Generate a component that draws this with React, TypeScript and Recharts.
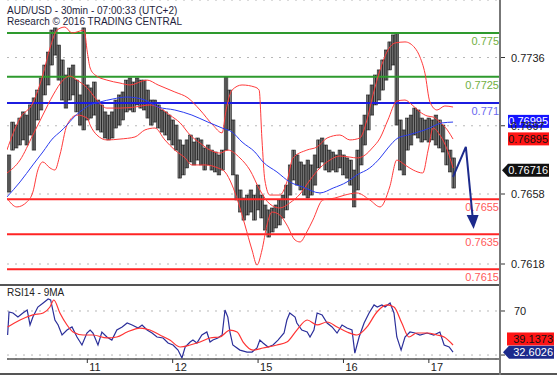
import React from 'react';
import { ComposedChart, Bar, Line, XAxis, YAxis, CartesianGrid, ReferenceLine, Scatter } from 'recharts';

// ---- price bars (hourly, t = hours since day 11 00:00, trading time) ----
const barHours = [-22,-21,-20,-19,-18,-17,-16,-15,-14,-13,-12,-11,-10,-9,-8,-7,-6,-5,-4,-3,-2,-1,
  0,1,2,3,4,5,6,7,8,9,10,11,12,13,14,15,16,17,18,19,20,21,22,23,
  24,25,26,27,28,29,30,31,32,33,34,35,36,37,38,39,40,41,42,43,44,45,46,47,
  48,49,50,51,52,53,54,55,56,57,58,59,60,61,62,63,64,65,66,67,68,69,70,71,
  72,73,74,75,76,77,78,79,80,81,82,83,84,85,86,87,88,89,90,91,92,93,94,95,
  96,97,98,99,100,101,102,103];
const barHighs = [0.76803,0.76991,0.76974,0.77014,0.77049,0.77031,0.77089,0.77129,0.77174,0.77243,0.77317,0.77391,0.77517,0.77529,0.77431,0.77346,0.77260,0.77300,0.77317,0.77231,0.77146,0.77529,
  0.77203,0.77186,0.77220,0.77117,0.77089,0.77049,0.77031,0.77049,0.77117,0.77146,0.77163,0.77231,0.77243,0.77220,0.77243,0.77231,0.77231,0.77174,0.77117,0.77117,0.77089,0.77060,0.77049,0.77031,
  0.77003,0.76974,0.76889,0.76860,0.76889,0.76917,0.76877,0.76900,0.76889,0.76843,0.76860,0.76831,0.76820,0.76803,0.76831,0.77249,0.77174,0.77003,0.76689,0.76603,0.76557,0.76574,0.76603,0.76574,
  0.76631,0.76574,0.76517,0.76489,0.76500,0.76517,0.76546,0.76574,0.76631,0.76746,0.76831,0.76803,0.76763,0.76746,0.76774,0.76746,0.76803,0.76889,0.76900,0.76860,0.76831,0.76820,0.76803,0.76831,
  0.76803,0.76786,0.76774,0.76717,0.76831,0.76974,0.77031,0.77146,0.77203,0.77260,0.77289,0.77346,0.77403,0.77449,0.77489,0.77500,0.77003,0.76946,0.77014,0.77031,0.77071,0.77060,0.77014,0.77003,
  0.77014,0.77003,0.77031,0.77003,0.76974,0.76889,0.76831,0.76786];
const barLows = [0.76591,0.76831,0.76843,0.76860,0.76889,0.76860,0.76917,0.76831,0.77003,0.77060,0.77146,0.77203,0.77317,0.77374,0.77231,0.77117,0.77071,0.77117,0.77146,0.77049,0.76974,0.76946,
  0.77003,0.77014,0.77031,0.76946,0.76934,0.76900,0.76889,0.76900,0.76957,0.76974,0.77003,0.77049,0.77060,0.77049,0.77089,0.77071,0.77060,0.77014,0.76974,0.76991,0.76957,0.76934,0.76917,0.76889,
  0.76860,0.76831,0.76671,0.76689,0.76729,0.76763,0.76746,0.76774,0.76746,0.76717,0.76746,0.76717,0.76706,0.76689,0.76717,0.76831,0.76946,0.76689,0.76546,0.76477,0.76431,0.76460,0.76477,0.76431,
  0.76489,0.76443,0.76374,0.76334,0.76363,0.76386,0.76403,0.76443,0.76489,0.76574,0.76660,0.76631,0.76603,0.76574,0.76557,0.76574,0.76631,0.76729,0.76763,0.76717,0.76706,0.76717,0.76706,0.76729,
  0.76689,0.76671,0.76631,0.76506,0.76603,0.76746,0.76860,0.76946,0.77031,0.77089,0.77117,0.77174,0.77231,0.77289,0.77317,0.76974,0.76717,0.76689,0.76831,0.76860,0.76917,0.76900,0.76877,0.76889,
  0.76877,0.76889,0.76860,0.76843,0.76820,0.76746,0.76706,0.76614];
const lastClose = 0.76716;

// ---- Bollinger bands (red) and moving average (blue) ----
const upperBand: [number, number][] = [[-22.6,0.76831],[-18.9,0.77014],[-15.3,0.77100],[-12.5,0.77260],[-10.5,0.77414],[-8.5,0.77517],[-6.3,0.77534],[-4.3,0.77500],[-2.1,0.77511],[-0.9,0.77517],
  [0,0.77391],[0.8,0.77300],[2.2,0.77260],[5.5,0.77231],[9.2,0.77214],[12,0.77203],[16.8,0.77231],[19.9,0.77203],[24.6,0.77163],[28.3,0.77129],[31.7,0.77060],[35.3,0.76974],[37.9,0.76929],
  [39,0.77060],[40.7,0.77174],[43.5,0.77203],[47.1,0.77191],[48.3,0.77174],[49.1,0.76889],[49.9,0.76660],[51.3,0.76574],[54.1,0.76574],[56.1,0.76649],[57.8,0.76786],[61.7,0.76831],
  [64.6,0.76849],[67.4,0.76900],[71,0.76917],[73.8,0.76889],[76.6,0.76900],[78.6,0.77003],[80.3,0.77146],[82.3,0.77289],[84.2,0.77391],[86.5,0.77443],[89.3,0.77449],[92.1,0.77414],
  [93.5,0.77363],[94.9,0.77271],[96.3,0.77106],[98.3,0.77060],[100.5,0.77083],[102.8,0.77077]];
const middleBand: [number, number][] = [[-22.6,0.76700],[-18.9,0.76774],[-15.3,0.76917],[-12.5,0.77031],[-9.6,0.77146],[-6.8,0.77231],[-4.9,0.77254],[-2.9,0.77231],[0,0.77186],[2.7,0.77117],
  [5.5,0.77071],[9.2,0.77071],[13.4,0.77077],[17.6,0.77089],[20.4,0.77071],[23.2,0.77031],[26.1,0.76986],[28.9,0.76917],[31.7,0.76871],[34.5,0.76831],[37.3,0.76814],[39.5,0.76831],
  [42.9,0.76786],[45.7,0.76717],[48.5,0.76603],[51.3,0.76523],[54.1,0.76500],[56.9,0.76529],[59.8,0.76580],[62.6,0.76660],[65.4,0.76729],[68.2,0.76774],[71,0.76797],[73.8,0.76791],
  [75.8,0.76786],[78.1,0.76803],[80.1,0.76843],[82.3,0.76900],[84.5,0.77003],[87,0.77111],[89.3,0.77117],[91.3,0.77089],[93.5,0.77049],[95.5,0.77026],[97.2,0.77020],[99.1,0.76991],
  [101.2,0.76946],[102.8,0.76894]];
const lowerBand: [number, number][] = [[-22.6,0.76557],[-19.8,0.76506],[-17,0.76534],[-15.3,0.76591],[-13.9,0.76717],[-12.5,0.76763],[-10.5,0.76729],[-9.1,0.76717],[-7.7,0.76803],[-5.7,0.76974],
  [-2.9,0.77031],[0,0.77014],[0.8,0.76974],[2.7,0.76917],[5.5,0.76889],[9.2,0.76894],[13.4,0.76906],[16.2,0.76946],[19,0.76957],[21.8,0.76889],[24.6,0.76831],[27.5,0.76786],[29.4,0.76746],
  [33.1,0.76746],[36.7,0.76729],[38.7,0.76706],[40.7,0.76631],[42.4,0.76534],[44.3,0.76403],[46.3,0.76260],[47.7,0.76174],[49.1,0.76260],[50.5,0.76403],[51.9,0.76477],[54.1,0.76460],
  [56.1,0.76403],[58.4,0.76317],[59.8,0.76306],[61.7,0.76363],[63.4,0.76431],[66.2,0.76546],[69.6,0.76557],[72.4,0.76574],[75.8,0.76586],[79.4,0.76546],[82.3,0.76506],[85,0.76620],
  [87,0.76774],[89.3,0.76746],[91.6,0.76717],[94.3,0.76700],[95.8,0.76831],[97.2,0.76957],[99.1,0.76917],[101.2,0.76831],[102.8,0.76729]];
const movingAvg: [number, number][] = [[-22.6,0.76563],[-18.9,0.76649],[-15.3,0.76746],[-12.5,0.76820],[-9.6,0.76900],[-7.7,0.76934],[-5.7,0.76974],[-4,0.77014],[-2.1,0.77049],[0.8,0.77089],
  [3.6,0.77106],[7.2,0.77123],[11.2,0.77134],[16.2,0.77117],[19.9,0.77077],[24.6,0.77060],[29.4,0.77031],[33.9,0.76991],[37.9,0.76957],[40.7,0.76934],[43.5,0.76877],[47.1,0.76820],
  [49.4,0.76763],[53.3,0.76706],[56.9,0.76649],[60.6,0.76620],[65.4,0.76586],[69.1,0.76614],[73,0.76649],[75.8,0.76689],[79.4,0.76729],[82.3,0.76786],[84.5,0.76843],[87.3,0.76900],
  [90.1,0.76917],[94.9,0.76946],[99.7,0.76986],[102.8,0.76991]];
const maLast = 0.76995;
const midLast = 0.76895;

// ---- forecast arrow ----
const arrowPath: [number, number][] = [[102.8,0.76678],[106.4,0.76849],[108.3,0.76449]];

// ---- key levels ----
const levelValues = [0.775, 0.7725, 0.771, 0.7655, 0.7635, 0.7615];
const levelLabels = ['0.775', '0.7725', '0.771', '0.7655', '0.7635', '0.7615'];
const levelKinds = ['res', 'res', 'pivot', 'sup', 'sup', 'sup'];

// ---- axes ----
const priceTicks = [0.7618, 0.7658, 0.7697, 0.7736];
const dayTicks = [0, 24, 48, 72, 96];
const dayLabels = ['11', '12', '15', '16', '17'];
const rsiTicks = [30, 50, 70];
const rsiTickLabels = ['', '50', '70'];

// ---- RSI ----
const rsiLine: [number, number][] = [[-22.4,48.2],[-22,69.1],[-20.9,68.2],[-19.5,64.5],[-18.1,68.2],[-16.9,70.9],[-16.1,57.3],[-15.3,64.5],[-13.9,73.6],[-12.4,77.3],[-11,80.9],[-10.3,80],
  [-9.1,61.8],[-8.2,57.3],[-7.1,48.2],[-5.7,52.7],[-4.3,55.5],[-2.9,46.4],[-1.5,39.1],[-0.1,50],[0.8,52.7],[1.6,50],[3,39.1],[4.1,50.9],[5.5,46.4],[6.9,43.6],[8.3,52.7],[9.8,55.5],
  [11.2,59.1],[12.6,57.3],[14.3,54.5],[15.4,57.3],[16.8,52.7],[18.2,50],[19.6,46.4],[21.3,45.5],[22.7,40.9],[24.1,39.1],[25.5,34.5],[26.6,27.3],[27.5,37.3],[28.9,41.8],[29.7,43.6],
  [30.8,40.9],[32.2,48.2],[33.6,50.9],[34.5,41.8],[35.3,43.6],[36.7,45.5],[37.9,48.2],[38.7,70.9],[39.5,64.5],[40.1,50.9],[40.9,39.1],[42.9,34.5],[44.9,32.7],[46.3,32.7],[47.7,36.4],
  [48.5,43.6],[49.4,40.9],[50.8,37.3],[52.2,39.1],[53.6,43.6],[55.3,50],[56.1,61.8],[56.9,68.2],[58.4,64.5],[58.9,59.1],[60.3,52.7],[61.8,50.9],[62.6,46.4],[63.7,52.7],[64.6,68.2],
  [66,66.4],[67.4,59.1],[68.8,55.5],[70.2,50],[71.6,57.3],[73,54.5],[74.4,52.7],[75.2,31.8],[76.4,46.4],[77.8,59.1],[79.2,68.2],[80.6,75.5],[81.5,73.6],[82.8,75.5],[83.7,73.6],
  [85.1,77.3],[86.2,68.2],[87,46.4],[88.2,34.5],[89.3,46.4],[90.7,50.9],[92.1,50],[93.5,48.2],[95.5,50],[97.4,48.2],[99.1,50.9],[100.3,39.1],[101.7,37.3],[102.8,32.6]];
const rsiMa: [number, number][] = [[-22.4,55.5],[-18.9,61.8],[-15.3,66.4],[-12.4,68.2],[-10.5,73.6],[-9.4,80],[-7.7,68.2],[-5.7,57.3],[-4,50.9],[-1.2,48.2],[1.6,48.2],[5.5,45.5],[8.3,46.4],
  [11.2,50.9],[14.8,54.5],[17.6,52.7],[20.4,48.2],[23.2,43.6],[26.1,37.3],[28.9,39.1],[31.7,41.8],[34.5,45.5],[37.3,46.4],[40.1,52.7],[42.1,50.9],[43.8,41.8],[46.6,34.5],[49.4,36.4],
  [53.3,39.1],[56.1,41.8],[58.9,52.7],[61.8,61.8],[64.6,57.3],[67.4,60],[70.2,55.5],[73,50.9],[75.8,48.2],[78.6,55.5],[81.4,69.1],[84.2,75.5],[86.2,73.6],[88.4,59.1],[90.4,46.4],
  [92.6,50],[95.5,50],[98.3,48.2],[100.3,46.4],[102.8,39.1]];
const rsiLast = 32.6026;
const rsiMaLast = 39.1373;

const FONT = '"Liberation Sans", Arial, sans-serif';
const X_DOMAIN: [number, number] = [-22.57, 116];

const toPts = (arr: [number, number][]) => arr.map(([t, v]) => ({ t, v }));
const barData = barHours.map((t, i) => ({ t, range: [barLows[i], barHighs[i]] }));

const levelStroke: Record<string, string> = { res: '#2e9a2e', pivot: '#1c1ce0', sup: '#ff2424' };
const levelText: Record<string, string> = { res: '#72b043', pivot: '#6a6af0', sup: '#ff5a5a' };

const PriceTick = (props: any) => {
  const { x, y, payload } = props;
  return (
    <text x={x} y={y} dy={4} fill="#222" fontSize={11} fontFamily={FONT} textAnchor="start">
      {Number(payload.value).toFixed(4)}
    </text>
  );
};

const RsiTick = (props: any) => {
  const { x, y, payload } = props;
  const label = rsiTickLabels[rsiTicks.indexOf(payload.value)];
  if (!label) return null;
  return (
    <text x={x + 3} y={y} dy={4} fill="#222" fontSize={11} fontFamily={FONT} textAnchor="start">
      {label}
    </text>
  );
};

const DayTick = (props: any) => {
  const { x, y, payload } = props;
  const i = dayTicks.indexOf(payload.value);
  return (
    <text x={x + 2} y={y} dy={6} fill="#222" fontSize={11} fontFamily={FONT} textAnchor="start">
      {dayLabels[i]}
    </text>
  );
};

const CandleShape = (props: any) => {
  const { x, y, width, height } = props;
  if (height == null || isNaN(height)) return null;
  const cx = x + width / 2;
  const top = Math.min(y, y + height);
  const h = Math.abs(height);
  return (
    <g>
      <rect x={cx - 1.8} y={top} width={3.6} height={h} fill="#838383" stroke="#1a1a1a" strokeWidth={0.6} />
      <line x1={cx} x2={cx} y1={top} y2={top + h} stroke="#111" strokeWidth={0.8} />
    </g>
  );
};

const Tag = (props: any) => {
  const { viewBox, text, fill, color, arrow, dx, w, shift = 0 } = props;
  if (!viewBox) return null;
  const right = viewBox.x + viewBox.width;
  const cy = viewBox.y + shift;
  const x0 = right + dx;
  const h = 13;
  const body = arrow ? (
    <path
      d={`M${x0},${cy} L${x0 + 6},${cy - h / 2} L${x0 + w},${cy - h / 2} L${x0 + w},${cy + h / 2} L${x0 + 6},${cy + h / 2} Z`}
      fill={fill}
    />
  ) : (
    <rect x={x0} y={cy - h / 2} width={w} height={h} fill={fill} />
  );
  return (
    <g>
      {body}
      <text x={x0 + w - 1} y={cy} dy={4} fill={color} fontSize={11} fontFamily={FONT} textAnchor="end">
        {text}
      </text>
    </g>
  );
};

const LevelLabel = (props: any) => {
  const { viewBox, text, color } = props;
  if (!viewBox) return null;
  return (
    <text x={viewBox.x + viewBox.width - 1} y={viewBox.y + 12} fill={color} fontSize={11} fontFamily={FONT} textAnchor="end">
      {text}
    </text>
  );
};

const ArrowHead = (props: any) => {
  const { cx, cy } = props;
  return <polygon points={`${cx - 6},${cy - 2} ${cx + 6},${cy - 2} ${cx + 1},${cy + 12}`} fill="#1c2a8c" />;
};

export default function App() {
  return (
    <div style={{ position: 'absolute', left: 0, top: 0, width: 557, height: 378, background: '#fff', overflow: 'hidden', fontFamily: FONT }}>
      <div style={{ position: 'absolute', left: 0, top: 0 }}>
        <ComposedChart width={557} height={285} data={barData} margin={{ top: 0, right: 0, bottom: 0, left: 7 }}>
          <CartesianGrid horizontal vertical={false} stroke="#b8b8b8" strokeDasharray="2 6" />
          <XAxis type="number" dataKey="t" domain={X_DOMAIN} allowDataOverflow hide />
          <YAxis
            orientation="right"
            width={57}
            domain={[0.7606, 0.776886]}
            allowDataOverflow
            ticks={priceTicks}
            tick={<PriceTick />}
            tickSize={5}
            tickMargin={6}
            tickLine={{ stroke: '#333' }}
            axisLine={false}
          />
          {levelValues.map((v, i) => (
            <ReferenceLine
              key={'lv' + i}
              y={v}
              stroke={levelStroke[levelKinds[i]]}
              strokeWidth={2}
              label={<LevelLabel text={levelLabels[i]} color={levelText[levelKinds[i]]} />}
            />
          ))}
          <Bar dataKey="range" barSize={3} shape={<CandleShape />} isAnimationActive={false} />
          <Line data={toPts(upperBand)} dataKey="v" type="monotone" stroke="#ff3b3b" strokeWidth={1} dot={false} isAnimationActive={false} />
          <Line data={toPts(middleBand)} dataKey="v" type="monotone" stroke="#ff3b3b" strokeWidth={1} dot={false} isAnimationActive={false} />
          <Line data={toPts(lowerBand)} dataKey="v" type="monotone" stroke="#ff3b3b" strokeWidth={1} dot={false} isAnimationActive={false} />
          <Line data={toPts(movingAvg)} dataKey="v" type="monotone" stroke="#2a3cf0" strokeWidth={1} dot={false} isAnimationActive={false} />
          <Line data={toPts(arrowPath)} dataKey="v" type="linear" stroke="#1c2a8c" strokeWidth={2} dot={false} isAnimationActive={false} />
          <Scatter data={[toPts(arrowPath)[2]]} dataKey="v" shape={<ArrowHead />} isAnimationActive={false} />
          <ReferenceLine y={maLast} stroke="none" label={<Tag text={String(maLast)} fill="#1414ff" color="#fff" dx={8} w={41} />} />
          <ReferenceLine y={midLast} stroke="none" label={<Tag text={String(midLast)} fill="#ff1414" color="#111" dx={8} w={41} />} />
          <ReferenceLine y={lastClose} stroke="none" label={<Tag text={String(lastClose)} fill="#111" color="#fff" arrow dx={2} w={47} />} />
        </ComposedChart>
      </div>
      <div style={{ position: 'absolute', left: 0, top: 285 }}>
        <ComposedChart width={557} height={93} margin={{ top: 0, right: 0, bottom: 0, left: 7 }}>
          <CartesianGrid horizontal vertical={false} stroke="#b8b8b8" strokeDasharray="2 6" />
          <XAxis
            type="number"
            dataKey="t"
            domain={X_DOMAIN}
            allowDataOverflow
            ticks={dayTicks}
            tick={<DayTick />}
            tickSize={4}
            tickMargin={2}
            height={19}
            axisLine={{ stroke: '#555', strokeWidth: 1.5 }}
            tickLine={{ stroke: '#333' }}
          />
          <YAxis
            orientation="right"
            width={57}
            domain={[26.4, 93.6]}
            allowDataOverflow
            ticks={rsiTicks}
            tick={<RsiTick />}
            tickSize={5}
            tickMargin={6}
            tickLine={{ stroke: '#333' }}
            axisLine={false}
          />
          <Line data={toPts(rsiLine)} dataKey="v" type="linear" stroke="#2b2f9a" strokeWidth={1.2} dot={false} isAnimationActive={false} />
          <Line data={toPts(rsiMa)} dataKey="v" type="monotone" stroke="#ff3333" strokeWidth={1.2} dot={false} isAnimationActive={false} />
          <ReferenceLine y={rsiMaLast} stroke="none" label={<Tag text={rsiMaLast.toFixed(4)} fill="#ff1414" color="#111" dx={7} w={47} shift={-6} />} />
          <ReferenceLine y={rsiLast} stroke="none" label={<Tag text={rsiLast.toFixed(4)} fill="#1c2a8c" color="#fff" arrow dx={3} w={51} />} />
        </ComposedChart>
      </div>
      {/* frame lines */}
      <div style={{ position: 'absolute', left: 0, top: 284, width: 500, height: 2, background: '#555' }} />
      <div style={{ position: 'absolute', left: 0, top: 373, width: 557, height: 2, background: '#555' }} />
      <div style={{ position: 'absolute', left: 499, top: 0, width: 2, height: 375, background: '#777' }} />
      {/* titles */}
      <div style={{ position: 'absolute', left: 7, top: 5, fontSize: 10, lineHeight: '12px', color: '#1e1e3c', whiteSpace: 'nowrap' }}>
        AUD/USD - 30min - 07:00:33 (UTC+2)
      </div>
      <div style={{ position: 'absolute', left: 7, top: 16, fontSize: 10, lineHeight: '12px', color: '#1e1e3c', whiteSpace: 'nowrap' }}>
        Research © 2016 TRADING CENTRAL
      </div>
      <div style={{ position: 'absolute', left: 7, top: 287, fontSize: 10, lineHeight: '12px', color: '#222', whiteSpace: 'nowrap' }}>
        RSI14 - 9MA
      </div>
    </div>
  );
}
